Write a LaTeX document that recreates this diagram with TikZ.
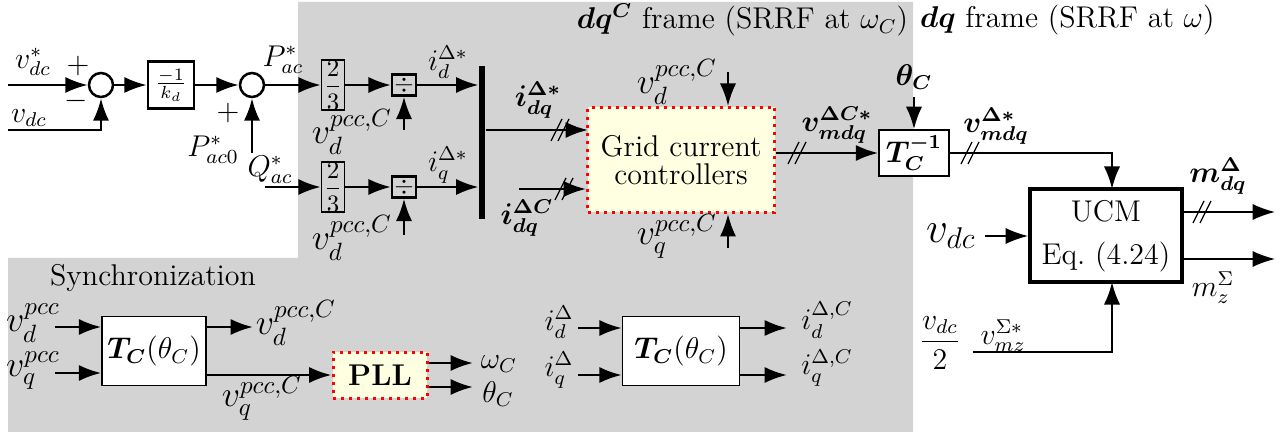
\documentclass[tikz,border=0pt]{standalone}
\usepackage{amsmath, amssymb, bm}
\usetikzlibrary{arrows.meta}
\definecolor{bggray}{RGB}{211,211,211}
\definecolor{ctrlyellow}{RGB}{255,255,226}
\newdimen\px \px=0.4pt
\tikzset{
    sig/.style={line width=1pt, -{Latex[length=9pt, width=6.5pt]}},
    thinsig/.style={sig, line width=0.6pt},
    lbl/.style={font=\large, inner sep=1pt},
    pcclbl/.style={font=\Large, inner sep=1pt},
    sumnode/.style={circle, draw, fill=white, line width=1pt, minimum size=24\px, inner sep=0pt},
    gainbox/.style={draw, line width=0.6pt, inner sep=0pt},
    tbox/.style={draw, fill=white, line width=0.6pt, inner sep=0pt, font=\large},
    ctrlbox/.style={draw=red, dotted, line width=1.2pt, fill=ctrlyellow, inner sep=0pt},
    dslash/.pic={\draw[line width=0.5pt] (-9,11) -- (2,-11) (-2,11) -- (9,-11);}
}

\begin{document}
\begin{tikzpicture}[x=0.4pt, y=-0.4pt]
        \useasboundingbox (0,0) rectangle (1285,432);
        % Background
        \fill[bggray] (298,2) -- (913,2) -- (913,432) -- (8,432) -- (8,258) -- (298,258) -- cycle;

        % Draw nodes
        \node[sumnode] (sum1) at (101,85) {};
        \node[gainbox, line width=1pt, fill=white, minimum width=46\px, minimum height=47\px] (kd) at (171,85) {$\frac{-1}{k_d}$};
        \node[sumnode] (sum2) at (252,85) {};
        \node[gainbox, minimum width=23\px, minimum height=46\px] (twoP) at (333,85) {$\dfrac{2}{3}$};
        \node[gainbox, line width=0.9pt, minimum width=24\px, minimum height=21\px] (divP) at (404,85) {$\div$};
        \node[gainbox, minimum width=23\px, minimum height=46\px] (twoQ) at (333,187) {$\dfrac{2}{3}$};
        \node[gainbox, line width=0.9pt, minimum width=24\px, minimum height=21\px] (divQ) at (404,187) {$\div$};
        \node[fill, minimum width=6\px, minimum height=153\px, inner sep=0pt] (bus) at (482,143) {};
        \node[ctrlbox, minimum width=187\px, minimum height=105\px, align=center, font=\large] (gcc) at (681,160) {Grid current\\[-3pt]controllers};
        \node[tbox, minimum width=70\px, minimum height=46\px] (tinv) at (914,153) {$\bm{T_C^{-1}}$};
        \node[draw, line width=1.6pt, fill=white, minimum width=152\px, minimum height=93\px, align=center, font=\large] (ucm) at (1106,236) {UCM\\[3pt]Eq.~(4.24)};
        \node[tbox, minimum width=104\px, minimum height=69\px] (tsync) at (154,351) {$\bm{T_C}(\theta_C)$};
        \node[ctrlbox, minimum width=94\px, minimum height=46\px, font=\large\bfseries] (pll) at (380,375) {PLL};
        \node[tbox, minimum width=117\px, minimum height=69\px] (tcur) at (681,351) {$\bm{T_C}(\theta_C)$};

        % Free ends
        \coordinate (vdcref) at (8,85);
        \coordinate (vdcmeas) at (8,130);
        \coordinate (pac0in) at (252,153);
        \coordinate (qacin) at (265,187);
        \coordinate (vdPin) at (404,130);
        \coordinate (vdQin) at (404,235);
        \coordinate (gccin1) at (588,130);
        \coordinate (idqCin) at (519,189);
        \coordinate (vdtop) at (728,72);
        \coordinate (vqbot) at (728,248);
        \coordinate (thetain) at (914,97);
        \coordinate (ucmtop) at (1112,189);
        \coordinate (ucmbot) at (1112,282);
        \coordinate (vmzin) at (973,352);
        \coordinate (mdqout) at (1275,212);
        \coordinate (mzout) at (1275,259);
        \coordinate (vdcin) at (985,236);
        \coordinate (syncin1) at (55,327);
        \coordinate (syncin2) at (55,373);
        \coordinate (syncout1) at (253,327);
        \coordinate (wout) at (473,363);
        \coordinate (thout) at (473,387);
        \coordinate (curin1) at (578,328);
        \coordinate (curin2) at (578,375);
        \coordinate (curout1) at (787,328);
        \coordinate (curout2) at (787,375);

        % Draw connections
        \draw[sig] (vdcref) -- (sum1);
        \draw[sig] (vdcmeas) -| (sum1);
        \draw[sig] (sum1) -- (kd);
        \draw[sig] (kd) -- (sum2);
        \draw[sig] (pac0in) -- (sum2);
        \draw[sig] (sum2) -- (twoP);
        \draw[sig] (twoP) -- (divP);
        \draw[sig] (vdPin) -- (divP);
        \draw[sig] (divP) -- (divP -| bus.west);
        \draw[sig] (qacin) -- (twoQ);
        \draw[sig] (twoQ) -- (divQ);
        \draw[sig] (vdQin) -- (divQ);
        \draw[sig] (divQ) -- (divQ -| bus.west);
        \draw[sig] (gccin1 -| bus.east) -- (gccin1);
        \draw[sig] (idqCin) -- (idqCin -| gcc.west);
        \draw[sig] (vdtop) -- (vdtop |- gcc.north);
        \draw[sig] (vqbot) -- (vqbot |- gcc.south);
        \draw[sig] (tinv -| gcc.east) -- (tinv);
        \draw[sig] (thetain) -- (tinv);
        \draw[sig] (tinv) -| (ucmtop);
        \draw[sig] (vmzin) -| (ucmbot);
        \draw[thinsig] (vdcin) -- (vdcin -| ucm.west);
        \draw[thinsig] (mdqout -| ucm.east) -- (mdqout);
        \draw[thinsig] (mzout -| ucm.east) -- (mzout);
        \draw[sig] (syncin1) -- (syncin1 -| tsync.west);
        \draw[sig] (syncin2) -- (syncin2 -| tsync.west);
        \draw[sig] (syncout1 -| tsync.east) -- (syncout1);
        \draw[sig] (pll.west -| tsync.east) -- (pll.west);
        \draw[sig] (wout -| pll.east) -- (wout);
        \draw[sig] (thout -| pll.east) -- (thout);
        \draw[sig] (curin1) -- (curin1 -| tcur.west);
        \draw[sig] (curin2) -- (curin2 -| tcur.west);
        \draw[sig] (curout1 -| tcur.east) -- (curout1);
        \draw[sig] (curout2 -| tcur.east) -- (curout2);

        % Bus marks
        \pic at (560,130) {dslash};
        \pic at (564,189) {dslash};
        \pic at (797,153) {dslash};
        \pic at (970,153) {dslash};
        \pic at (1202,212) {dslash};

        % Labels
        \node[lbl, anchor=east] (frameC) at (911,20) {$\bm{dq^C}$ frame (SRRF at $\omega_C$)};
        \node[lbl, anchor=west] (frameG) at (917,20) {$\bm{dq}$ frame (SRRF at $\omega$)};
        \node[lbl] (lvdcref) at (33,62) {$v_{dc}^*$};
        \node[lbl] (lplus1) at (78,66) {$+$};
        \node[lbl] (lminus1) at (76,101) {$-$};
        \node[lbl] (lvdc) at (29,118) {$v_{dc}$};
        \node[lbl] (lpac) at (283,60) {$P_{ac}^*$};
        \node[lbl] (lplus2) at (228,113) {$+$};
        \node[lbl] (lpac0) at (213,150) {$P_{ac0}^*$};
        \node[lbl] (lqac) at (270,170) {$Q_{ac}^*$};
        \node[pcclbl] (lvdP) at (352,132) {$v_d^{pcc,C}$};
        \node[pcclbl] (lvdQ) at (352,238) {$v_d^{pcc,C}$};
        \node[lbl] (lidref) at (448,62) {$i_d^{\Delta*}$};
        \node[lbl] (liqref) at (448,165) {$i_q^{\Delta*}$};
        \node[lbl] (lidqref) at (538,100) {$\bm{i_{dq}^{\Delta*}}$};
        \node[lbl] (lidqC) at (527,218) {$\bm{i_{dq}^{\Delta C}}$};
        \node[pcclbl] (lvdtop) at (677,82) {$v_d^{pcc,C}$};
        \node[pcclbl] (lvqbot) at (677,236) {$v_q^{pcc,C}$};
        \node[lbl] (lvmC) at (837,125) {$\bm{v_{mdq}^{\Delta C*}}$};
        \node[lbl] (ltheta) at (914,77) {$\bm{\theta_C}$};
        \node[lbl] (lvm) at (996,126) {$\bm{v_{mdq}^{\Delta*}}$};
        \node[lbl] (lmdq) at (1218,176) {$\bm{m_{dq}^{\Delta}}$};
        \node[lbl] (lmz) at (1213,288) {$m_z^{\Sigma}$};
        \node[font=\LARGE, inner sep=1pt] (lvdcbig) at (951,236) {$v_{dc}$};
        \node[lbl] (lvdchalf) at (940,343) {$\dfrac{v_{dc}}{2}$};
        \node[lbl] (lvmz) at (1003,336) {$v_{mz}^{\Sigma*}$};
        \node[lbl] (lsync) at (153,278) {Synchronization};
        \node[pcclbl] (lvdpcc) at (33,323) {$v_d^{pcc}$};
        \node[pcclbl] (lvqpcc) at (33,371) {$v_q^{pcc}$};
        \node[pcclbl] (lvdpccC) at (296,323) {$v_d^{pcc,C}$};
        \node[pcclbl] (lvqpccC) at (262,398) {$v_q^{pcc,C}$};
        \node[lbl] (lw) at (499,364) {$\omega_C$};
        \node[lbl] (lth) at (498,394) {$\theta_C$};
        \node[lbl] (lid) at (559,322) {$i_d^{\Delta}$};
        \node[lbl] (liq) at (559,370) {$i_q^{\Delta}$};
        \node[lbl] (lidC) at (827,320) {$i_d^{\Delta,C}$};
        \node[lbl] (liqC) at (827,368) {$i_q^{\Delta,C}$};
    \end{tikzpicture}
\end{document}
